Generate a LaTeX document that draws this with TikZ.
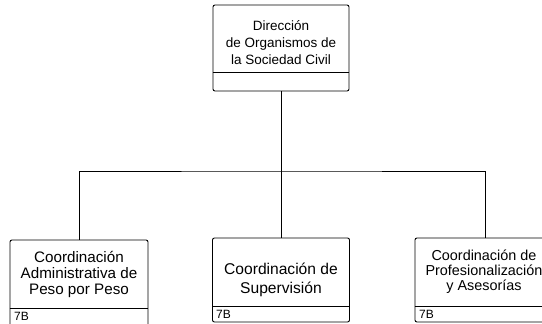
\documentclass[tikz,border=0pt]{standalone}
\usepackage{fontspec}
\setmainfont{Liberation Sans}
\begin{document}
\begin{tikzpicture}[x=1pt,y=-1pt,
  box/.style={draw=black, line width=0.9pt, rounded corners=2pt, inner sep=0pt},
  wire/.style={draw=black, line width=0.9pt},
  lbl/.style={align=center, inner sep=0pt}]
\useasboundingbox (0,0) rectangle (542,324);
% boxes
\node[box, minimum width=136pt, minimum height=86pt] (top) at (281,48) {};
\node[box, minimum width=138pt, minimum height=86pt] (left) at (79,283) {};
\node[box, minimum width=137pt, minimum height=84pt] (mid) at (281,280) {};
\node[box, minimum width=140pt, minimum height=84pt] (right) at (485,280) {};
% dividers
\draw[wire] (top.west |- 0,72) -- (top.east |- 0,72);
\draw[wire] (left.west |- 0,308) -- (left.east |- 0,308);
\draw[wire] (mid.west |- 0,306) -- (mid.east |- 0,306);
\draw[wire] (right.west |- 0,306) -- (right.east |- 0,306);
% texts
\node[lbl, font=\fontsize{13.5}{17}\selectfont] (ttop) at (281,43) {Dirección\\de Organismos de\\la Sociedad Civil};
\node[lbl, font=\fontsize{15.2}{16}\selectfont] (tleft) at (79,274) {Coordinación\\Administrativa de\\Peso por Peso};
\node[lbl, font=\fontsize{15.6}{19}\selectfont] (tmid) at (281,280) {Coordinación de\\Supervisión};
\node[lbl, font=\fontsize{14.4}{15}\selectfont] (tright) at (484,272) {Coordinación de\\Profesionalización\\y Asesorías};
\node[lbl, anchor=west, font=\fontsize{12}{12}\selectfont] (lleft) at (14,316) {7B};
\node[lbl, anchor=west, font=\fontsize{12}{12}\selectfont] (lmid) at (216,314) {7B};
\node[lbl, anchor=west, font=\fontsize{12}{12}\selectfont] (lright) at (419,314) {7B};
% connectors
\coordinate (j) at (281,171);
\draw[wire] (top.south) -- (j);
\draw[wire] (j) -- (mid.north);
\draw[wire] (left.north) |- (j) -| (right.north);
\end{tikzpicture}
\end{document}
